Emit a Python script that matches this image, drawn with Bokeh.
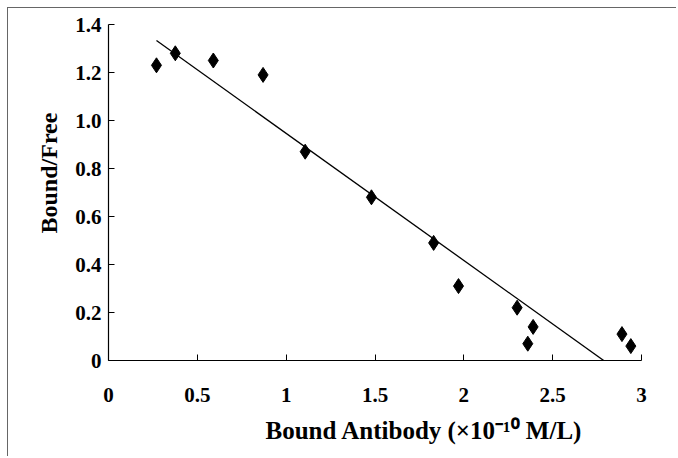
from bokeh.plotting import figure
from bokeh.models import Range1d, FixedTicker, Title
from bokeh.embed import file_html
from bokeh.resources import INLINE

# Data
bound_antibody = [0.27, 0.376, 0.59, 0.87, 1.107, 1.48, 1.83, 1.97, 2.30, 2.39, 2.36, 2.89, 2.94]
bound_free = [1.23, 1.28, 1.25, 1.19, 0.87, 0.68, 0.49, 0.31, 0.22, 0.14, 0.07, 0.11, 0.06]
fit_intercept = 1.476
fit_slope = -0.5296
fit_x = [0.27, 2.875]
fit_y = [fit_intercept + fit_slope * x for x in fit_x]
x_ticks = [0, 0.5, 1, 1.5, 2, 2.5, 3]
x_tick_labels = ["0", "0.5", "1", "1.5", "2", "2.5", "3"]
y_ticks = [0, 0.2, 0.4, 0.6, 0.8, 1.0, 1.2, 1.4]
y_tick_labels = ["0", "0.2", "0.4", "0.6", "0.8", "1.0", "1.2", "1.4"]
y_title = "Bound/Free"
x_title = "Bound Antibody (\u00d710\u207b\u00b9\u2070 M/L)"

FONT = "Liberation Serif"
W, H = 669, 449

p = figure(width=W, height=H, output_backend="svg", toolbar_location=None,
           x_range=Range1d(0, 3), y_range=Range1d(0, 1.4),
           min_border_left=100, min_border_right=36, min_border_top=16, min_border_bottom=97)
p.styles = {"margin-left": "7px", "margin-top": "7px",
            "border-left": "1px solid #666", "border-top": "1px solid #666"}
p.outline_line_color = None
p.xgrid.visible = False
p.ygrid.visible = False
p.background_fill_color = "white"
p.border_fill_color = "white"

p.line(fit_x, fit_y, line_color="black", line_width=1.3)
p.scatter(bound_antibody, bound_free, marker="diamond", size=15, fill_color="black", line_color="black")

for ax, ticks, labels, standoff in [(p.xaxis[0], x_ticks, x_tick_labels, 27),
                                    (p.yaxis[0], y_ticks, y_tick_labels, 7)]:
    ax.ticker = FixedTicker(ticks=ticks)
    ax.major_label_overrides = {t: l for t, l in zip(ticks, labels)}
    ax.major_tick_in = 6
    ax.major_tick_out = 0
    ax.minor_tick_line_color = None
    ax.axis_line_color = "black"
    ax.axis_line_width = 1.2
    ax.major_tick_line_color = "black"
    ax.major_label_standoff = standoff
    ax.major_label_text_font = FONT
    ax.major_label_text_font_style = "bold"
    ax.major_label_text_font_size = "21px"
    ax.major_label_text_color = "black"

p.add_layout(Title(text=y_title, align="left", offset=127, standoff=21,
                   text_font=FONT, text_font_style="bold", text_font_size="24px",
                   text_color="black"), "left")
p.add_layout(Title(text=x_title, align="left", offset=157, standoff=24, vertical_align="top",
                   text_line_height=0.7,
                   text_font=FONT, text_font_style="bold", text_font_size="25px",
                   text_color="black"), "below")

open("out.html", "w").write(file_html(p, INLINE))
